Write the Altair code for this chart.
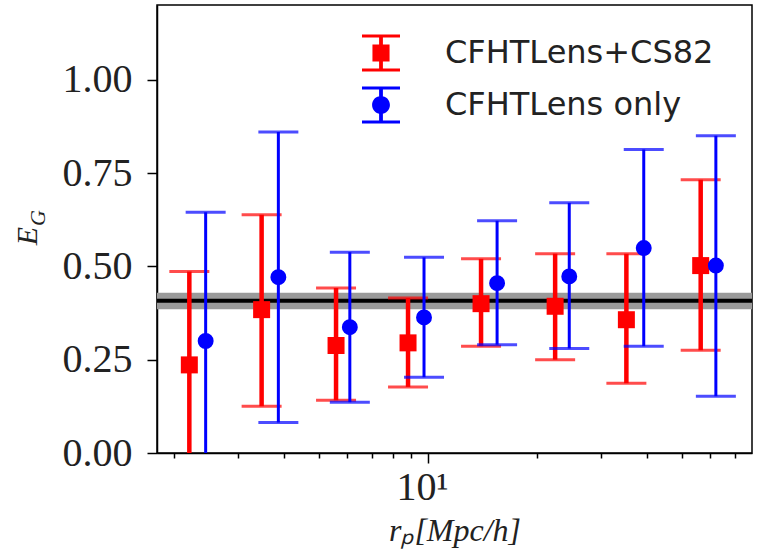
import altair as alt
import pandas as pd

# ---- data ----
series_names = ["CFHTLens+CS82", "CFHTLens only"]

red_r = [2.20, 3.48, 5.58, 8.81, 14.0, 22.4, 35.2, 56.4]
red_eg = [0.236, 0.384, 0.288, 0.295, 0.400, 0.393, 0.357, 0.502]
red_lo = [-0.014, 0.125, 0.141, 0.177, 0.286, 0.250, 0.187, 0.275]
red_hi = [0.486, 0.638, 0.442, 0.415, 0.520, 0.534, 0.534, 0.732]

blue_r = [2.44, 3.87, 6.09, 9.75, 15.5, 24.5, 39.3, 62.1]
blue_eg = [0.300, 0.471, 0.337, 0.363, 0.455, 0.473, 0.549, 0.502]
blue_lo = [-0.045, 0.082, 0.136, 0.203, 0.290, 0.280, 0.286, 0.152]
blue_hi = [0.645, 0.860, 0.538, 0.524, 0.622, 0.670, 0.813, 0.850]

band_center = [0.408]
band_lo = [0.385]
band_hi = [0.429]

x_ticks = [2, 3, 4, 5, 6, 7, 8, 9, 10, 20, 30, 40, 50, 60, 70]
y_ticks = [0.0, 0.25, 0.5, 0.75, 1.0]

red_df = pd.DataFrame({"series": series_names[0], "r": red_r, "eg": red_eg, "lo": red_lo, "hi": red_hi})
blue_df = pd.DataFrame({"series": series_names[1], "r": blue_r, "eg": blue_eg, "lo": blue_lo, "hi": blue_hi})
all_df = pd.concat([red_df, blue_df], ignore_index=True)
band_df = pd.DataFrame({"c": band_center, "lo": band_lo, "hi": band_hi})

RED = "#ff0000"
BLUE = "#0000ff"

xscale = alt.Scale(type="log", domain=[1.792, 78.1], nice=False)
yscale = alt.Scale(domain=[0, 1.2], nice=False, zero=False)

xaxis = alt.Axis(
    values=x_ticks,
    labelExpr="datum.value == 10 ? '10¹' : ''",
    tickSize={"condition": {"test": "datum.value == 10", "value": 10}, "value": 5},
    grid=False,
    labelFont="Liberation Serif",
    labelFontSize=40,
    labelColor="#222222",
    labelPadding=4,
    labelOffset=-6,
    labelOverlap=False,
    labelFlush=False,
    title="rₚ[Mpc/h]",
    titleFont="Liberation Serif",
    titleFontStyle="italic",
    titleFontWeight="normal",
    titleFontSize=32,
    titleColor="#222222",
    titlePadding=8,
)
yaxis = alt.Axis(
    values=y_ticks,
    format=".2f",
    tickSize=10,
    grid=False,
    labelFont="Liberation Serif",
    labelFontSize=40,
    labelColor="#222222",
    labelPadding=15,
    title=None,
)

X = alt.X("r:Q", scale=xscale, axis=xaxis)
Y = alt.Y("eg:Q", scale=yscale, axis=yaxis)

color_scale = alt.Scale(domain=series_names, range=[RED, BLUE])

cap = "M-1,-0.97H1V-0.81H-1Z M-1,0.81H1V0.97H-1Z M-0.1,-0.9H0.1V0.9H-0.1Z "
red_sym = cap + "M-0.45,-0.45H0.45V0.45H-0.45Z"
k = 0.2596
blue_sym = cap + (
    f"M0.47,0 C0.47,{k} {k},0.47 0,0.47 C-{k},0.47 -0.47,{k} -0.47,0 "
    f"C-0.47,-{k} -{k},-0.47 0,-0.47 C{k},-0.47 0.47,-{k} 0.47,0 Z"
)
shape_scale = alt.Scale(domain=series_names, range=[red_sym, blue_sym])

legend = alt.Legend(
    title=None,
    orient="none",
    legendX=205,
    legendY=29,
    symbolSize=1444,
    symbolStrokeWidth=0,
    symbolOpacity=1,
    labelFont="DejaVu Sans",
    labelFontSize=32,
    labelColor="#222222",
    labelOffset=45,
    labelLimit=0,
    rowPadding=14,
    padding=0,
)

band = alt.Chart(band_df).mark_rect(color="#9a9a9a").encode(
    y=alt.Y("lo:Q", scale=yscale, axis=yaxis), y2="hi:Q"
)
band_line = alt.Chart(band_df).mark_rule(color="black", strokeWidth=4).encode(
    y=alt.Y("c:Q", scale=yscale, axis=yaxis)
)


def errorbars(df, width, col):
    base = alt.Chart(df)
    bars = base.mark_rule(strokeWidth=width, clip=True, color=col).encode(
        x=X, y=alt.Y("lo:Q", scale=yscale, axis=yaxis), y2="hi:Q",
    )
    caps_lo = base.mark_tick(orient="horizontal", size=40, thickness=3, clip=True, color=col).encode(
        x=X, y=alt.Y("lo:Q", scale=yscale, axis=yaxis),
    )
    caps_hi = base.mark_tick(orient="horizontal", size=40, thickness=3, clip=True, color=col).encode(
        x=X, y=alt.Y("hi:Q", scale=yscale, axis=yaxis),
    )
    return bars, caps_lo, caps_hi


rb, rcl, rch = errorbars(red_df, 4.5, RED)
bb, bcl, bch = errorbars(blue_df, 3, BLUE)

red_pts = alt.Chart(red_df).mark_point(
    shape="square", filled=True, size=289, opacity=1, strokeWidth=0, color=RED
).encode(x=X, y=Y)
blue_pts = alt.Chart(blue_df).mark_point(
    shape="circle", filled=True, size=254, opacity=1, strokeWidth=0, color=BLUE
).encode(x=X, y=Y)

legend_layer = alt.Chart(all_df).mark_point(filled=True, opacity=0).encode(
    x=X, y=Y,
    color=alt.Color("series:N", scale=color_scale, legend=legend),
    shape=alt.Shape("series:N", scale=shape_scale, legend=legend),
)

ytitle_df = pd.DataFrame({"t": ["E"]})
ysub_df = pd.DataFrame({"t": ["G"]})
ytitle = alt.Chart(ytitle_df).mark_text(
    font="Liberation Serif", fontStyle="italic", fontSize=30, angle=270,
    align="center", baseline="middle", color="#222222",
).encode(x=alt.value(-129), y=alt.value(231), text="t:N")
ysub = alt.Chart(ysub_df).mark_text(
    font="Liberation Serif", fontStyle="italic", fontSize=22, angle=270,
    align="center", baseline="middle", color="#222222",
).encode(x=alt.value(-119), y=alt.value(213), text="t:N")

chart = alt.layer(
    band, band_line, rb, rcl, rch, red_pts, bb, bcl, bch, blue_pts, legend_layer, ytitle, ysub
).properties(
    width=595,
    height=448,
    autosize=alt.AutoSizeParams(type="none"),
    padding={"left": 157, "top": 5, "right": 9, "bottom": 100},
    background="white",
).configure_view(
    stroke="black", strokeWidth=1.5
).configure_axis(
    domainColor="black", domainWidth=1.5, tickColor="black", tickWidth=1.5
)

chart.save("out.html", embed_options={"renderer": "svg", "actions": False})
